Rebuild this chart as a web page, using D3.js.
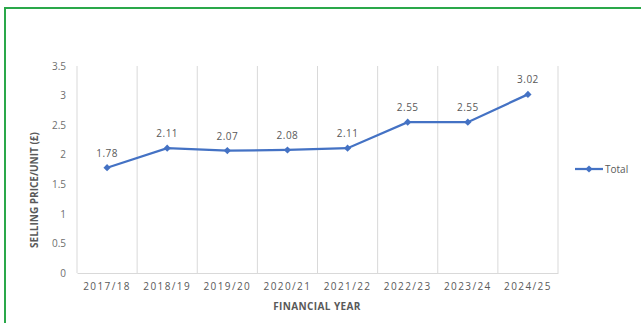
<!DOCTYPE html>
<html lang="en">
<head>
    <meta charset="UTF-8">
    <title>Selling Price per Unit</title>
    <script src="https://d3js.org/d3.v7.min.js"></script>
    <style>
        body { margin: 0; background: #fff; }
        svg text { font-family: "Open Sans", "Liberation Sans", sans-serif; }
    </style>
</head>
<body>
    <div id="chart"></div>
    <script>
        // Data
        const years = ["2017/18", "2018/19", "2019/20", "2020/21", "2021/22", "2022/23", "2023/24", "2024/25"];
        const totals = [1.78, 2.11, 2.07, 2.08, 2.11, 2.55, 2.55, 3.02];
        const yTicks = [0, 0.5, 1, 1.5, 2, 2.5, 3, 3.5];
        const seriesName = "Total";

        const width = 641, height = 323;
        const plot = { left: 77, right: 558, top: 66, bottom: 273 };
        const blue = "#4472C4";
        const grey = "#595959";

        const svg = d3.select("#chart").append("svg")
            .attr("width", width)
            .attr("height", height);

        // green frame
        svg.append("rect")
            .attr("x", 5).attr("y", 8)
            .attr("width", 660).attr("height", 340)
            .attr("fill", "#fff")
            .attr("stroke", "#2aa84a")
            .attr("stroke-width", 2);

        const x = d3.scaleBand().domain(years).range([plot.left, plot.right]);
        const y = d3.scaleLinear().domain([0, 3.5]).range([plot.bottom, plot.top]);

        // vertical gridlines at category boundaries
        const bounds = years.map(d => x(d)).concat([plot.right]);
        svg.append("g")
            .selectAll("line")
            .data(bounds)
            .join("line")
            .attr("x1", d => d).attr("x2", d => d)
            .attr("y1", plot.top).attr("y2", plot.bottom)
            .attr("stroke", "#d9d9d9")
            .attr("stroke-width", 1);

        // x axis
        const xAxis = svg.append("g")
            .attr("transform", `translate(0,${plot.bottom})`)
            .call(d3.axisBottom(x).tickSize(0).tickPadding(10));
        xAxis.select(".domain").attr("stroke", "#d9d9d9");
        xAxis.selectAll("text")
            .attr("fill", grey)
            .attr("font-size", 10)
            .style("letter-spacing", "1.4px");

        // y axis (labels only)
        const yAxis = svg.append("g")
            .attr("transform", `translate(${plot.left},0)`)
            .call(d3.axisLeft(y).tickValues(yTicks).tickSize(0).tickPadding(11).tickFormat(d3.format("")));
        yAxis.select(".domain").remove();
        yAxis.selectAll("text")
            .attr("fill", "#6e6e6e")
            .attr("font-size", 10);

        // axis titles
        svg.append("text")
            .attr("transform", "translate(38,190) rotate(-90)")
            .attr("text-anchor", "middle")
            .attr("font-size", 10)
            .attr("font-weight", "bold")
            .attr("fill", grey)
            .text("SELLING PRICE/UNIT (£)");

        svg.append("text")
            .attr("x", 317).attr("y", 310)
            .attr("text-anchor", "middle")
            .attr("font-size", 10)
            .attr("font-weight", "bold")
            .attr("fill", grey)
            .style("letter-spacing", "0.4px")
            .text("FINANCIAL YEAR");

        // line
        const cx = (d, i) => x(years[i]) + x.bandwidth() / 2;
        const line = d3.line()
            .x((d, i) => cx(d, i))
            .y(d => y(d));

        svg.append("path")
            .datum(totals)
            .attr("d", line)
            .attr("fill", "none")
            .attr("stroke", blue)
            .attr("stroke-width", 2.25);

        // square diamond marker
        const diamond = d3.symbol().type(d3.symbolSquare).size(26);
        svg.append("g")
            .selectAll("path")
            .data(totals)
            .join("path")
            .attr("d", diamond)
            .attr("transform", (d, i) => `translate(${cx(d, i)},${y(d)}) rotate(45)`)
            .attr("fill", blue);

        // data labels
        svg.append("g")
            .selectAll("text")
            .data(totals)
            .join("text")
            .attr("x", (d, i) => cx(d, i))
            .attr("y", d => y(d) - 11)
            .attr("text-anchor", "middle")
            .attr("font-size", 10)
            .attr("fill", grey)
            .style("letter-spacing", "0.5px")
            .text(d => d3.format(".2f")(d));

        // legend
        const legend = svg.append("g").attr("transform", "translate(575,169)");
        legend.append("line")
            .attr("x1", 0).attr("x2", 28)
            .attr("stroke", blue)
            .attr("stroke-width", 2.25);
        legend.append("path")
            .attr("d", diamond)
            .attr("transform", "translate(14,0) rotate(45)")
            .attr("fill", blue);
        legend.append("text")
            .attr("x", 30).attr("y", 4)
            .attr("font-size", 10)
            .attr("fill", grey)
            .text(seriesName);
    </script>
</body>
</html>
